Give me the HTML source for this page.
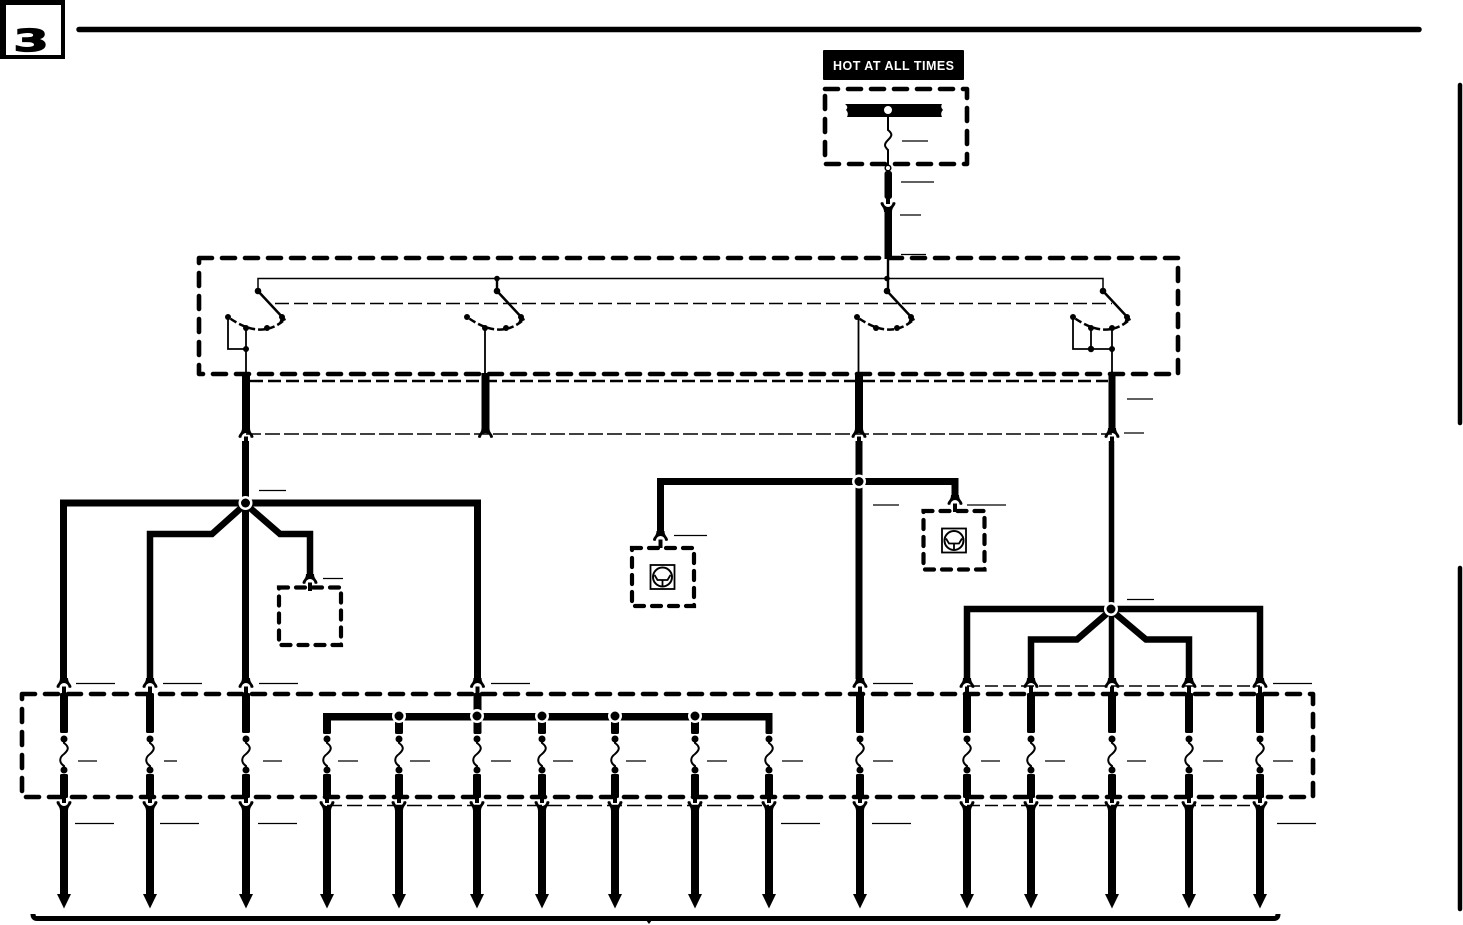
<!DOCTYPE html>
<html><head><meta charset="utf-8"><style>
html,body{margin:0;padding:0;background:#fff;width:1463px;height:925px;overflow:hidden}
svg{display:block}
.w{fill:none;stroke:#000;stroke-linejoin:miter}
.box{fill:none;stroke:#000;stroke-width:4.6;stroke-linecap:round;stroke-linejoin:round;stroke-dasharray:13 10}
.sbox{fill:none;stroke:#000;stroke-width:4.2;stroke-linecap:round;stroke-dasharray:9 8}
.l{stroke:#000;stroke-width:1.3}
.d{fill:none;stroke:#000;stroke-width:1.6;stroke-dasharray:14 5}
</style></head><body>
<svg width="1463" height="925" viewBox="0 0 1463 925" xmlns="http://www.w3.org/2000/svg">
<defs>
<g id="archn"><path d="M-7.500,3 C-7.500,0 -4,-1 -4,-6 H4 C4,-1 7.500,0 7.500,3 Q7,4.500 4.500,3.500 A4,4 0 0 0 -4.500,3.500 Q-7,4.500 -7.500,3Z" fill="#000"/></g>
<g id="arch"><use href="#archn"/><rect x="-2" y="2.500" width="4" height="8.500" fill="#000"/></g>
<g id="cupn"><path d="M-7.500,-3 C-7.500,0 -4,1 -4,6 H4 C4,1 7.500,0 7.500,-3 Q7,-4.500 4.500,-3.500 A4,4 0 0 1 -4.500,-3.500 Q-7,-4.500 -7.500,-3Z" fill="#000"/></g>
<g id="cup"><use href="#cupn"/><rect x="-2" y="-9" width="4" height="7" fill="#000"/></g>
<g id="low">
<circle cx="0" cy="739" r="3.500" fill="#000"/>
<path d="M0,739 L0,743 C5.500,747 4.500,750 0,754 C-5.500,758 -4.500,763 0,766 L0,770" fill="none" stroke="#000" stroke-width="2"/>
<circle cx="0" cy="770" r="3.500" fill="#000"/>
<rect x="-4" y="774" width="8" height="24" rx="1.500" fill="#000"/>
<use href="#cup" y="805"/>
<rect x="-4" y="808" width="8" height="88" fill="#000"/>
<path d="M-7,894 L7,894 L0,908.500Z" fill="#000"/>
</g>
<g id="up">
<use href="#arch" y="684"/>
<rect x="-4" y="693" width="8" height="40" rx="1.500" fill="#000"/>
</g>
<g id="icon">
<rect x="-12" y="-12" width="24" height="24" fill="#fff" stroke="#000" stroke-width="1.800"/>
<circle r="9.500" fill="none" stroke="#000" stroke-width="2"/>
<path d="M-8,-2 L-5,3 H5 L8,-2 M0,3 V10" fill="none" stroke="#000" stroke-width="1.800"/>
</g>
<g id="sw">
<line x1="0" y1="0" x2="27" y2="29" stroke="#000" stroke-width="2.500"/>
<circle cx="0" cy="0" r="3.300" fill="#000"/>
<circle cx="24" cy="26" r="3" fill="#000"/>
<path d="M25,30 Q2,49 -30,26" fill="none" stroke="#000" stroke-width="2.500" stroke-dasharray="7 3"/>
<path d="M21,32 L28,29 L24,24Z" fill="#000"/>
<circle cx="-30" cy="26" r="3" fill="#000"/>
</g>
</defs>

<!-- header -->
<rect x="0" y="0" width="65" height="59" fill="#000"/>
<rect x="6" y="5" width="55" height="50" fill="#fff"/>
<text transform="translate(31,51) scale(1.75,1.05)" text-anchor="middle" font-family="'DejaVu Sans',sans-serif" font-weight="bold" font-size="29" stroke="#000" stroke-width="1.200">3</text>
<line x1="79" y1="29.500" x2="1419" y2="29.500" stroke="#000" stroke-width="5.500" stroke-linecap="round"/>
<line x1="1460" y1="85" x2="1460" y2="423" stroke="#000" stroke-width="4.500" stroke-linecap="round"/>
<line x1="1460" y1="568" x2="1460" y2="909" stroke="#000" stroke-width="4.500" stroke-linecap="round"/>

<!-- hot at all times -->
<rect x="823" y="50" width="141" height="30" rx="1" fill="#000"/>
<text x="833" y="70" fill="#fff" font-family="'Liberation Sans',sans-serif" font-weight="bold" font-size="12.500" textLength="121" lengthAdjust="spacing">HOT AT ALL TIMES</text>

<!-- fuse box -->
<rect class="box" x="825" y="89" width="142" height="75"/>
<path d="M845,104 H942 Q940,107 943,110 Q940,113 942,117 H847 Q849,113 846,110 Q849,107 845,104Z" fill="#000"/>
<circle cx="888" cy="110" r="4" fill="#fff"/>
<path d="M888,116 V130 C893,134 892,136 888,140 C884,144 884,146 888,150 V165" fill="none" stroke="#000" stroke-width="2"/>
<circle cx="888" cy="168" r="2.800" fill="#fff" stroke="#000" stroke-width="1.500"/>
<rect x="884.500" y="171" width="7.500" height="28" rx="2.500" fill="#000"/>
<use href="#cup" x="888" y="206"/>
<rect x="884.500" y="209" width="7.500" height="50" fill="#000"/>
<line x1="888" y1="258" x2="888" y2="291" stroke="#000" stroke-width="2.400"/>

<!-- switch box -->
<rect class="box" x="199" y="258" width="979" height="116"/>
<path d="M258,291 V278.500 H1103 V291" fill="none" stroke="#000" stroke-width="1.500"/>
<line x1="497" y1="278" x2="497" y2="291" stroke="#000" stroke-width="2.400"/>
<circle cx="497" cy="278.500" r="2.800" fill="#000"/>
<circle cx="887" cy="278.500" r="2.800" fill="#000"/>
<line class="d" x1="275" y1="303.500" x2="1112" y2="303.500"/>
<use href="#sw" x="258" y="291"/>
<use href="#sw" x="497" y="291"/>
<use href="#sw" x="887" y="291"/>
<use href="#sw" x="1103" y="291"/>
<g fill="#000">
<circle cx="246" cy="328" r="3"/><circle cx="267" cy="328" r="3"/><circle cx="246" cy="349" r="3"/>
<circle cx="485" cy="328" r="3"/><circle cx="506" cy="328" r="3"/>
<circle cx="876" cy="328" r="3"/><circle cx="897" cy="328" r="3"/>
<circle cx="1091" cy="328" r="3"/><circle cx="1112" cy="328" r="3"/><circle cx="1091" cy="349" r="3.200"/><circle cx="1112" cy="349" r="3"/>
</g>
<path d="M246,328 V374 M228,317 V349 H246 M485,328 V374 M858.500,317 V374 M1112,328 V374 M1091,328 V349 M1073,317 V349 H1112" fill="none" stroke="#000" stroke-width="1.800"/>

<!-- wires below switch box -->
<g fill="#000">
<rect x="242" y="373" width="8" height="57"/>
<rect x="481.500" y="373" width="8" height="57"/>
<rect x="855" y="373" width="8" height="57"/>
<rect x="1108.500" y="373" width="7" height="57"/>
</g>
<line x1="250" y1="381" x2="1108" y2="381" stroke="#000" stroke-width="2.400" stroke-dasharray="13 5"/>
<line x1="246" y1="434" x2="1112" y2="434" stroke="#000" stroke-width="1.500" stroke-dasharray="15 4"/>
<use href="#arch" x="246" y="434"/>
<use href="#archn" x="485.500" y="434"/>
<use href="#arch" x="859" y="434"/>
<use href="#arch" x="1112" y="434"/>

<!-- left harness -->
<path class="w" stroke-width="7" d="M63.500,679 V503 H477.500 V679"/>
<path class="w" stroke-width="7" d="M245.500,441 V679"/>
<path class="w" stroke-width="6.500" d="M150,679 V534 H212 L245.500,504 L280,534 H310 V575"/>
<use href="#arch" x="310" y="580"/>
<circle cx="245.500" cy="503" r="7" fill="#fff"/>
<circle cx="245.500" cy="503" r="4.500" fill="#000"/>
<rect class="sbox" x="279" y="587.500" width="62" height="57.500"/>

<!-- centre harness -->
<path class="w" stroke-width="7" d="M859,441 V679"/>
<path class="w" stroke-width="7" d="M660.500,532 V481.500 H955 V496"/>
<use href="#arch" x="660.500" y="537"/>
<use href="#arch" x="955" y="501"/>
<circle cx="859" cy="481.500" r="7" fill="#fff"/>
<circle cx="859" cy="481.500" r="4.500" fill="#000"/>
<rect class="sbox" x="632" y="548" width="62" height="58"/>
<rect class="sbox" x="923.500" y="511" width="61" height="58.500"/>
<use href="#icon" x="662.500" y="577"/>
<use href="#icon" x="954" y="540.500"/>

<!-- right harness -->
<path class="w" stroke-width="5.500" d="M1111.500,441 V679"/>
<path class="w" stroke-width="6.500" d="M967,679 V609 H1260 V679"/>
<path class="w" stroke-width="6.500" d="M1031,679 V639.500 H1077 L1111,610 L1146,639.500 H1189 V679"/>
<circle cx="1111" cy="609" r="7" fill="#fff"/>
<circle cx="1111" cy="609" r="4.500" fill="#000"/>

<!-- lower dashed link lines -->
<line x1="967" y1="686" x2="1260" y2="686" stroke="#000" stroke-width="1.500" stroke-dasharray="13 5"/>
<line x1="327" y1="805.500" x2="769" y2="805.500" stroke="#000" stroke-width="1.500" stroke-dasharray="15 5"/>
<line x1="967" y1="805.500" x2="1260" y2="805.500" stroke="#000" stroke-width="1.500" stroke-dasharray="13 5"/>

<!-- connector block box -->
<rect class="box" x="22" y="694" width="1291" height="103"/>

<!-- bus -->
<rect x="323" y="713" width="449.500" height="7.500" fill="#000"/>
<rect x="323" y="713" width="8" height="21" rx="1.500" fill="#000"/>
<rect x="395" y="716" width="8" height="18" rx="1.500" fill="#000"/>
<rect x="538" y="716" width="8" height="18" rx="1.500" fill="#000"/>
<rect x="611" y="716" width="8" height="18" rx="1.500" fill="#000"/>
<rect x="691" y="716" width="8" height="18" rx="1.500" fill="#000"/>
<rect x="765.500" y="713" width="7" height="21" rx="1.500" fill="#000"/>
<rect x="473.500" y="716" width="8" height="18" rx="1.500" fill="#000"/>

<!-- columns -->
<use href="#up" x="64"/><use href="#up" x="150"/><use href="#up" x="246"/><use href="#up" x="477.500"/><use href="#up" x="860"/>
<use href="#up" x="967"/><use href="#up" x="1031"/><use href="#up" x="1112"/><use href="#up" x="1189"/><use href="#up" x="1260"/>

<use href="#low" x="64"/><use href="#low" x="150"/><use href="#low" x="246"/><use href="#low" x="327"/><use href="#low" x="399"/>
<use href="#low" x="477"/><use href="#low" x="542"/><use href="#low" x="615"/><use href="#low" x="695"/><use href="#low" x="769"/>
<use href="#low" x="860"/><use href="#low" x="967"/><use href="#low" x="1031"/><use href="#low" x="1112"/><use href="#low" x="1189"/><use href="#low" x="1260"/>

<!-- bus nodes -->
<g fill="#fff"><circle cx="399" cy="716" r="7"/><circle cx="477" cy="716" r="7"/><circle cx="542" cy="716" r="7"/><circle cx="615" cy="716" r="7"/><circle cx="695" cy="716" r="7"/></g>
<g fill="#000"><circle cx="399" cy="716" r="4.500"/><circle cx="477" cy="716" r="4.500"/><circle cx="542" cy="716" r="4.500"/><circle cx="615" cy="716" r="4.500"/><circle cx="695" cy="716" r="4.500"/></g>

<!-- bottom bracket -->
<path d="M33,914 Q33,918.500 37,918.500 H1274 Q1278,918.500 1278,914" fill="none" stroke="#000" stroke-width="5"/>
<path d="M646,920 L652,920 L649,924Z" fill="#000"/>

<!-- label lines -->
<g class="l">
<line x1="902" y1="141" x2="928" y2="141"/><line x1="901" y1="182" x2="934" y2="182"/><line x1="900" y1="215" x2="921" y2="215"/><line x1="901" y1="254.500" x2="926" y2="254.500"/>
<line x1="1127" y1="399" x2="1153" y2="399"/><line x1="1124" y1="433" x2="1144" y2="433"/>
<line x1="259" y1="490.500" x2="286" y2="490.500"/><line x1="873" y1="505" x2="899" y2="505"/><line x1="967" y1="505" x2="1006" y2="505"/>
<line x1="674" y1="535.500" x2="707" y2="535.500"/><line x1="323" y1="578.500" x2="343" y2="578.500"/><line x1="1127" y1="599.500" x2="1154" y2="599.500"/>
<line x1="76" y1="683.500" x2="115" y2="683.500"/><line x1="163" y1="683.500" x2="202" y2="683.500"/><line x1="259" y1="683.500" x2="298" y2="683.500"/><line x1="491" y1="683.500" x2="530" y2="683.500"/><line x1="873" y1="683.500" x2="913" y2="683.500"/><line x1="1273" y1="683.500" x2="1312" y2="683.500"/>
<line x1="78" y1="761" x2="97" y2="761"/><line x1="164" y1="761" x2="177" y2="761"/><line x1="263" y1="761" x2="282" y2="761"/><line x1="338" y1="761" x2="358" y2="761"/><line x1="410" y1="761" x2="430" y2="761"/><line x1="491" y1="761" x2="511" y2="761"/><line x1="553" y1="761" x2="573" y2="761"/><line x1="626" y1="761" x2="646" y2="761"/><line x1="707" y1="761" x2="727" y2="761"/><line x1="782" y1="761" x2="803" y2="761"/><line x1="873" y1="761" x2="893" y2="761"/><line x1="981" y1="761" x2="1000" y2="761"/><line x1="1045" y1="761" x2="1065" y2="761"/><line x1="1127" y1="761" x2="1146" y2="761"/><line x1="1203" y1="761" x2="1223" y2="761"/><line x1="1273" y1="761" x2="1293" y2="761"/>
<line x1="75" y1="823.500" x2="114" y2="823.500"/><line x1="160" y1="823.500" x2="199" y2="823.500"/><line x1="258" y1="823.500" x2="297" y2="823.500"/><line x1="781" y1="823.500" x2="820" y2="823.500"/><line x1="872" y1="823.500" x2="911" y2="823.500"/><line x1="1277" y1="823.500" x2="1316" y2="823.500"/>
</g>
</svg>
</body></html>
